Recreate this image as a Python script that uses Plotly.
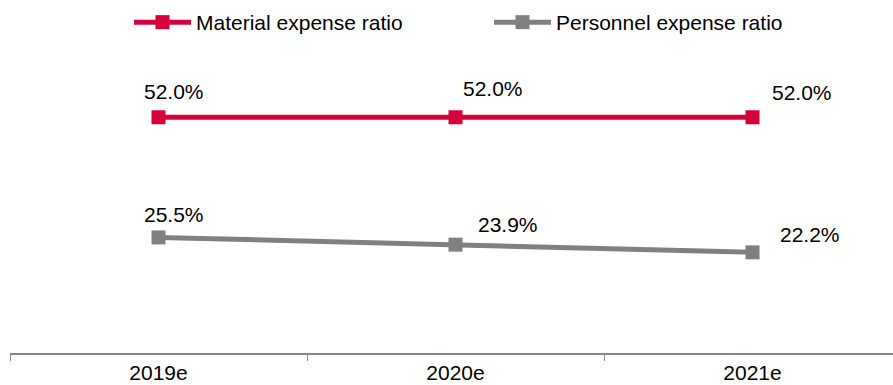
import plotly.graph_objects as go

years = ["2019e", "2020e", "2021e"]
material_ratio = [52.0, 52.0, 52.0]
personnel_ratio = [25.5, 23.9, 22.2]

# label offsets (pixels) relative to each point
material_shift = [(15, 26), (37, 29), (49, 25)]
personnel_shift = [(15, 23), (52, 20), (57, 18)]

RED = "#D5003B"
GRAY = "#808080"
FONT = "Liberation Sans, Arial, sans-serif"

fig = go.Figure()
fig.add_trace(go.Scatter(
    x=years, y=material_ratio, name="Material expense ratio",
    mode="lines+markers",
    line=dict(color=RED, width=5),
    marker=dict(symbol="square", size=14, color=RED),
))
fig.add_trace(go.Scatter(
    x=years, y=personnel_ratio, name="Personnel expense ratio",
    mode="lines+markers",
    line=dict(color=GRAY, width=5),
    marker=dict(symbol="square", size=14, color=GRAY),
))

for series, shifts in ((material_ratio, material_shift), (personnel_ratio, personnel_shift)):
    for yr, val, (dx, dy) in zip(years, series, shifts):
        fig.add_annotation(
            x=yr, y=val, text=f"{val:.1f}%", showarrow=False,
            xshift=dx, yshift=dy,
            font=dict(family=FONT, size=21, color="#000000"),
        )

fig.update_layout(
    width=893, height=385,
    margin=dict(l=10, r=0, t=81, b=32),
    paper_bgcolor="white", plot_bgcolor="white",
    font=dict(family=FONT, size=21, color="#000000"),
    showlegend=True,
    legend=dict(
        orientation="h", x=129 / 893, xanchor="left", xref="container",
        y=1 - 22.5 / 385, yanchor="middle", yref="container",
        entrywidth=288, entrywidthmode="pixels",
        itemwidth=57,
        font=dict(family=FONT, size=21, color="#000000"),
        bgcolor="rgba(0,0,0,0)",
    ),
    xaxis=dict(
        type="category", range=[-0.5, 2.473],
        showline=True, linecolor="#888888", linewidth=2,
        ticks="outside", tickson="boundaries", ticklen=6,
        tickcolor="#888888", tickwidth=1,
        showgrid=False, zeroline=False,
        tickfont=dict(family=FONT, size=21, color="#000000"),
    ),
    yaxis=dict(
        range=[0, 60], visible=False, showgrid=False, zeroline=False,
    ),
)

fig.write_html("out.html")
